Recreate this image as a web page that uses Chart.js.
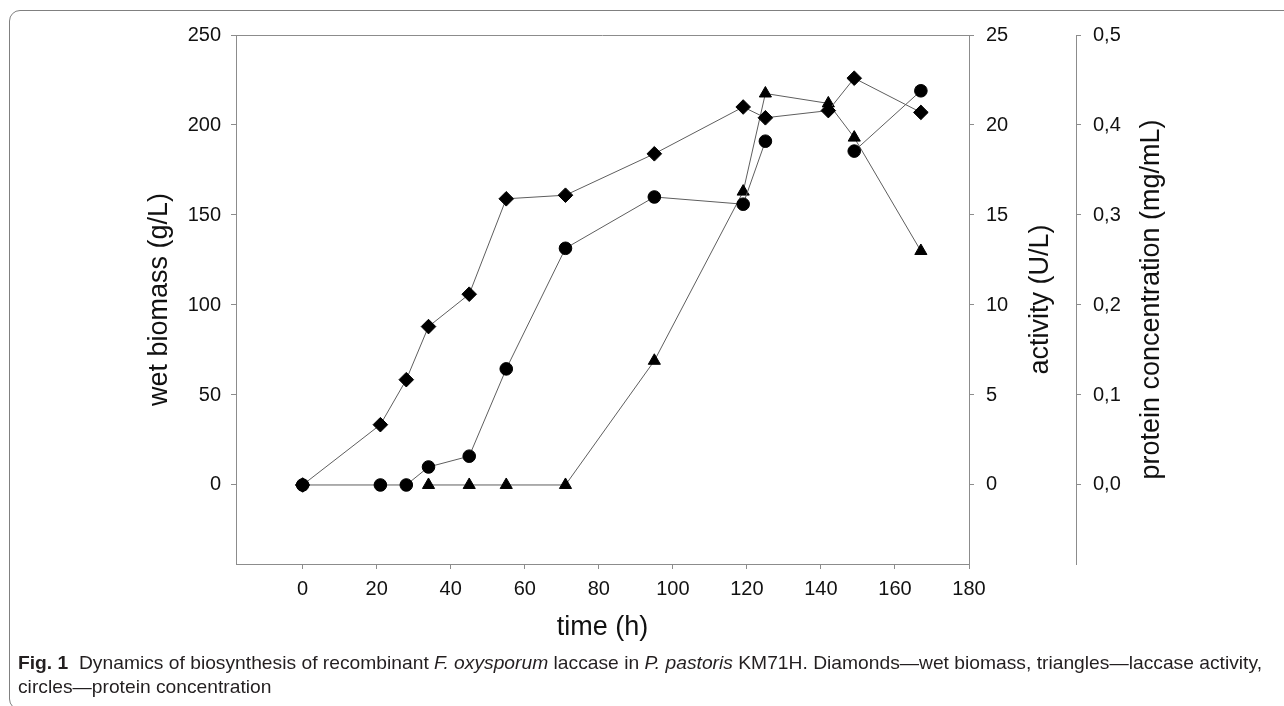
<!DOCTYPE html>
<html><head><meta charset="utf-8">
<script src="https://cdn.jsdelivr.net/npm/chart.js@4.4.1/dist/chart.umd.min.js"></script>
<style>
html,body{margin:0;padding:0;width:1284px;height:706px;overflow:hidden;background:#fff;}
#wrap{position:relative;width:1284px;height:706px;overflow:hidden;}
#c{position:absolute;left:0;top:0;}
#frame{position:absolute;left:9px;top:10px;width:1400px;height:700px;border:1.5px solid #808080;border-radius:11px;box-sizing:border-box;}
#cap{position:absolute;left:18px;top:651px;font-family:"Liberation Sans",Arial,sans-serif;font-size:19px;line-height:24px;color:#231f20;white-space:nowrap;transform-origin:0 0;}
#cap b{color:#231f20;}
</style></head><body>
<div id="wrap">
<div id="frame"></div>
<canvas id="c" width="1284" height="706"></canvas>
<div id="cap"><span id="l1"><b>Fig. 1</b>&nbsp; Dynamics of biosynthesis of recombinant <i>F. oxysporum</i> laccase in <i>P. pastoris</i> KM71H. Diamonds—wet biomass, triangles—laccase activity,</span><br><span>circles—protein concentration</span></div>
</div>
<script>
const times = [0, 21, 28, 34, 45, 55, 71, 95, 119, 125, 142, 149, 167];
const wetBiomass = [0, 33.5, 58.5, 88, 106, 159, 161, 184, 210, 204, 208, 226, 207];
const activity = [null, null, null, 0, 0, 0, 0, 6.9, 16.3, 21.75, 21.2, 19.3, 13.0];
const protein = [0, 0, 0, 0.02, 0.032, 0.129, 0.263, 0.32, 0.312, 0.382, null, 0.371, 0.438];

const xTicks = [0, 20, 40, 60, 80, 100, 120, 140, 160, 180];
const biomassTicks = [0, 50, 100, 150, 200, 250];
const activityTicks = [0, 5, 10, 15, 20, 25];
const proteinTicks = [0, 0.1, 0.2, 0.3, 0.4, 0.5];
const proteinTickLabels = ['0,0', '0,1', '0,2', '0,3', '0,4', '0,5'];

const axisColor = '#8c8c8c';
const lineColor = '#5e5e5e';
const FONT = '"Liberation Sans", Arial, sans-serif';

function pts(arr, keepNull) {
  const out = [];
  times.forEach((t, i) => {
    if (arr[i] === null && !keepNull) return;
    out.push({x: t, y: arr[i]});
  });
  return out;
}
function fixedTicks(vals) {
  return s => { s.ticks = vals.map(v => ({value: v})); };
}
function baseScale(extra) {
  return Object.assign({
    type: 'linear',
    grid: {drawOnChartArea: false, drawTicks: true, tickLength: 5, color: axisColor, lineWidth: 1},
    border: {display: true, color: axisColor, width: 1},
  }, extra);
}

const frameTop = {
  id: 'frameTop',
  beforeDatasetsDraw(chart) {
    const {ctx, chartArea: a} = chart;
    ctx.save();
    ctx.strokeStyle = axisColor; ctx.lineWidth = 1;
    ctx.beginPath();
    ctx.moveTo(a.left, Math.round(a.top) + 0.5);
    ctx.lineTo(a.right, Math.round(a.top) + 0.5);
    ctx.stroke();
    ctx.restore();
  }
};
const rightTitles = {
  id: 'rightTitles',
  afterDraw(chart) {
    const {ctx, chartArea: a} = chart;
    const cy = (a.top + a.bottom) / 2;
    const items = [
      {text: 'activity (U/L)', x: chart.scales.y2.left + 72},
      {text: 'protein concentration (mg/mL)', x: chart.scales.y3.left + 76}
    ];
    ctx.save();
    ctx.fillStyle = '#111';
    ctx.font = '27px ' + FONT;
    ctx.textAlign = 'center';
    ctx.textBaseline = 'middle';
    items.forEach(it => {
      ctx.save();
      ctx.translate(it.x, cy);
      ctx.rotate(-Math.PI / 2);
      ctx.fillText(it.text, 0, 0);
      ctx.restore();
    });
    ctx.restore();
  }
};

new Chart(document.getElementById('c'), {
  type: 'line',
  data: {
    datasets: [
      {label: 'protein', data: pts(protein, true), yAxisID: 'y3', xAxisID: 'x', order: 0,
       pointStyle: 'circle', pointRadius: 6.3, pointBackgroundColor: '#000', pointBorderColor: '#000', pointBorderWidth: 1,
       borderColor: lineColor, borderWidth: 1, spanGaps: false, fill: false, tension: 0},
      {label: 'biomass', data: pts(wetBiomass), yAxisID: 'y', xAxisID: 'x', order: 1,
       pointStyle: 'rectRot', pointRadius: 7.3, pointBackgroundColor: '#000', pointBorderColor: '#000', pointBorderWidth: 1,
       borderColor: lineColor, borderWidth: 1, fill: false, tension: 0},
      {label: 'activity', data: pts(activity), yAxisID: 'y2', xAxisID: 'x', order: 2,
       pointStyle: 'triangle', pointRadius: 7, pointBackgroundColor: '#000', pointBorderColor: '#000', pointBorderWidth: 1,
       borderColor: lineColor, borderWidth: 1, fill: false, tension: 0}
    ]
  },
  options: {
    responsive: false, animation: false, devicePixelRatio: 1,
    layout: {padding: {left: 0, top: 35, right: 59, bottom: 62}},
    plugins: {legend: {display: false}, tooltip: {enabled: false}},
    scales: {
      x: baseScale({
        position: 'bottom', min: -18, max: 180,
        afterBuildTicks: fixedTicks(xTicks),
        afterFit: s => { s.height = 80; },
        ticks: {color: '#111', font: {family: FONT, size: 20}, padding: 8, maxRotation: 0, autoSkip: false},
        title: {display: true, text: 'time (h)', color: '#111', font: {family: FONT, size: 27}, padding: {top: 0, bottom: 0}}
      }),
      y: baseScale({
        position: 'left', min: -43.9, max: 250,
        afterBuildTicks: fixedTicks(biomassTicks),
        afterFit: s => { s.width = 236; },
        ticks: {color: '#111', font: {family: FONT, size: 20}, padding: 10, autoSkip: false},
        title: {display: true, text: 'wet biomass (g/L)', color: '#111', font: {family: FONT, size: 27}, padding: {top: 143.8, bottom: 0}}
      }),
      y2: baseScale({
        position: 'right', min: -4.39, max: 25,
        afterBuildTicks: fixedTicks(activityTicks),
        afterFit: s => { s.width = 107; },
        ticks: {color: '#111', font: {family: FONT, size: 20}, padding: 12, autoSkip: false},
        title: {display: false}
      }),
      y3: baseScale({
        position: 'right', min: -0.0878, max: 0.5,
        afterBuildTicks: fixedTicks(proteinTicks),
        afterFit: s => { s.width = 149; },
        ticks: {color: '#111', font: {family: FONT, size: 20}, padding: 12, autoSkip: false,
                callback: (v, i) => proteinTickLabels[i]},
        title: {display: false}
      })
    }
  },
  plugins: [frameTop, rightTitles]
});

// fit caption first line to the reference width
(function () {
  const cap = document.getElementById('cap');
  const l1 = document.getElementById('l1');
  const w = l1.getBoundingClientRect().width;
  const target = 1244;
  cap.style.transform = 'scaleX(' + (target / w) + ')';
})();
</script>
</body></html>
